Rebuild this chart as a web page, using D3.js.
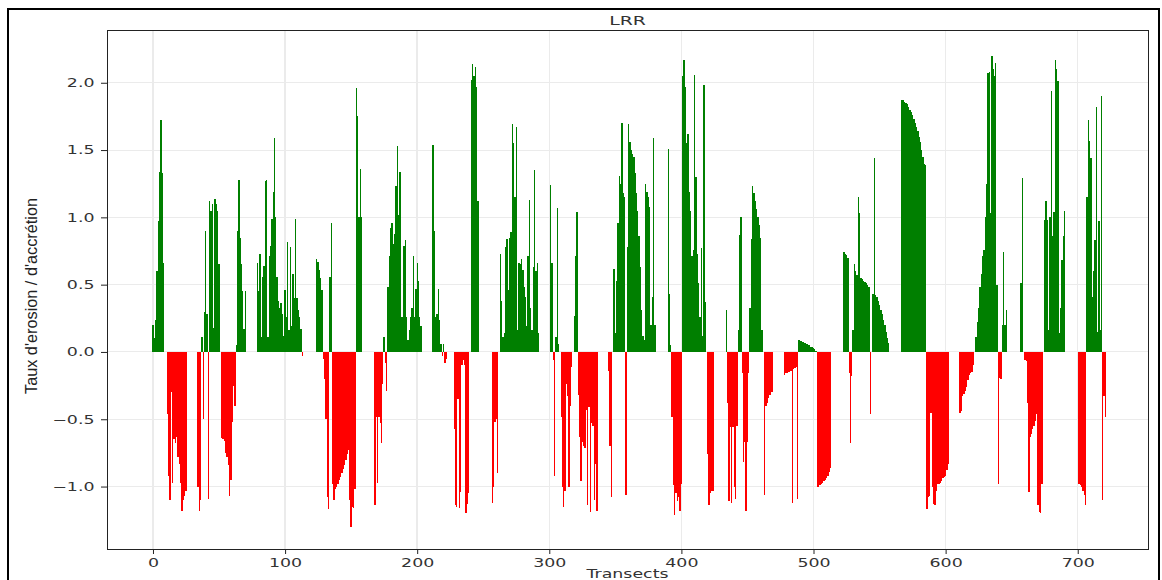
<!DOCTYPE html>
<html lang="fr">
<head>
<meta charset="utf-8">
<title>LRR</title>
<script src="https://d3js.org/d3.v7.min.js"></script>
<style>
	body { margin: 0; background: #fff; }
</style>
</head>
<body>
<script type="text/javascript">
//Data : LRR par transect (m/an)
var lrr = [
	0.2, 0.1, 0.24, 0.6, 0.97, 1.34, 1.72, 1.33, 0.66, 0,
	0, -0.46, -0.92, -1.1, -0.3, -0.97, -0.65, -0.68, -0.63, -0.78,
	-0.83, -0.97, -1.18, -1.1, -1.07, -1.03, 0, 0, 0, 0,
	0, 0, 0, 0, -1.0, -1.18, -1.1, 0.11, -0.5, 0.3,
	0.9, 0.28, -1.09, 1.12, 1.05, 1.1, 0.18, 1.14, 1.1, 1.05,
	0.65, 0, -0.64, -0.65, -0.66, -0.75, -0.78, -0.84, -1.07, -0.95,
	-0.52, -0.25, -0.4, 0.05, 0.9, 1.28, 0.85, 0.65, 0.45, 0.17,
	0.45, 0, 0, 0, 0, 0, 0, 0, 0, 0.66,
	0.45, 0.73, 0.11, 0.56, 0.64, 1.27, 1.28, 0.11, 0.71, 0.79,
	0.99, 1.19, 1.59, 1.0, 0.56, 0.38, 0.33, 0.36, 0.28, 0.12,
	0.46, 0.26, 0.82, 0.16, 0.78, 0.19, 0.58, 0.4, 0.99, 0.4,
	0.31, 0.26, 0.17, -0.03, 0, 0, 0, 0, 0, 0,
	0, 0, 0, 0, 0.69, 0.67, 0.61, 0.55, 0.46, -0.05,
	-0.2, -0.5, -1.08, -1.17, 0.56, 0.96, -0.98, -1.1, -1.02, -1.0,
	-0.98, -0.95, -0.93, -0.9, -0.87, -0.84, -0.8, -0.76, -0.73, -1.1,
	-1.3, -1.15, -1.16, -1.02, 1.96, 1.75, 1.0, 1.36, 1.0, 0,
	0, 0, 0, 0, 0, 0, 0, 0, -1.14, -0.48,
	-0.97, -0.48, -0.53, -0.68, -0.24, 0.11, -0.08, -0.29, 0.48, 0.71,
	0.92, 0.96, 0.8, 0.88, 1.23, 1.53, 1.02, 1.34, 0.26, 0.26,
	0.79, 0.83, 0.26, 0.09, 0.16, 0.26, 0.33, 0.71, 0.26, 0.47,
	0.66, 0.53, 0.26, 0.19, 0, 0, 0, 0, 0, 0,
	0, 0, 1.54, 0.9, 0.26, 0.28, 0.47, 0.24, 0.06, -0.03,
	0.06, -0.08, -0.05, 0, 0, 0, 0, 0, -0.57, -1.14,
	-1.15, -0.35, -1.16, -1.04, -0.1, -0.06, -0.1, -1.2, -1.13, -1.05,
	0, 2.02, 2.14, 2.05, 2.12, 1.97, 1.12, 0, 0, 0,
	0, 0, 0, 0, 0, 0, 0, -1.12, -1.0, -0.52,
	-0.5, -0.9, 0, 0.73, 0.38, 0.11, 0.14, 0.78, 0.84, 0.46,
	0.85, 0.89, 1.69, 1.55, 1.15, 1.67, 0.16, 0.66, 0.65, 0.69,
	0.61, 0.48, 0.41, 0.19, 0.71, 1.13, 0.33, 0.16, 0.63, 1.35,
	0.6, 0.66, 0.14, 0, 0, 0, 0, 0, 0, 0,
	0, 1.24, 0.66, -0.06, -0.92, 0.11, 1.07, 0.06, 0, -0.48,
	-1.0, -1.15, -1.03, -0.24, -0.33, -1.0, -0.4, -0.11, 0, 0.27,
	0.71, 1.04, -0.32, -0.63, -0.96, -0.67, -0.7, -0.71, -0.43, -1.14,
	-0.41, -1.19, -0.53, -0.55, -1.1, -0.83, -1.18, 0, 0, 0,
	0, 0, 0, 0, 0, -0.14, -0.7, -1.08, 0, 0.62,
	0.14, 0.53, 0.96, 1.31, 1.25, 1.7, 1.18, 1.15, -1.06, 0.78,
	1.69, 1.56, 1.5, 1.47, 1.45, 1.33, 1.18, 1.05, 0.86, 0.63,
	0.31, 0.12, 0.09, 1.25, 1.19, 1.15, 1.08, 0.2, 0.41, 1.59,
	0.2, 0, 0, 0, 0, 0, 0, 0, 0, 0,
	1.51, 0.43, 0.05, -0.48, -0.99, -1.21, -1.05, -1.11, -1.08, -1.18,
	-0.98, 2.05, 2.17, 1.97, 1.55, 1.62, 1.19, 1.05, 0.71, 0.76,
	2.06, 1.3, 0.73, 0.51, 0.26, 0.77, 0.12, 1.98, 0.37, 0,
	-0.76, -1.14, -1.05, -1.03, -1.03, 0, 0, 0, 0, 0,
	0, 0, 0, 0, 0.31, -0.38, -1.11, -0.56, -1.12, -0.56,
	-1.0, -1.09, -0.55, 0.16, 0.87, 1.0, -0.16, -0.82, -0.67, -1.18,
	-0.67, -0.16, 0.33, 0.84, 1.23, 1.18, 1.12, 1.06, 1.0, 0.94,
	0.85, 0.16, 0, -1.06, -0.4, -0.38, -0.34, -0.32, -0.3, -0.3,
	0, 0, 0, 0, 0, 0, 0, 0, -0.17, -0.16,
	-0.16, -0.15, -0.15, -0.14, -1.12, -0.13, -0.12, -0.11, -1.09, 0.09,
	0.085, 0.08, 0.075, 0.07, 0.065, 0.06, 0.055, 0.05, 0.04, 0.035,
	0.03, 0.02, 0.01, -1.0, -1.0, -0.99, -0.98, -0.97, -0.96, -0.95,
	-0.94, -0.92, -0.89, -0.86, 0, 0, 0, 0, 0, 0,
	0, 0, 0, 0.74, 0.73, 0.72, 0.7, -0.16, -0.68, -0.18,
	0.16, 0.65, 0.6, 0.57, 1.15, 1.03, 0.55, 0.54, 0.53, 0.52,
	0.51, 0.5, 0.48, -0.46, 0, 0.43, 1.44, 0.42, 0.41, 0.38,
	0.35, 0.31, 0.28, 0.24, 0.2, 0.15, 0.1, 0.07, 0, 0,
	0, 0, 0, 0, 0, 0, 0, 1.87, 1.87, 1.86,
	1.85, 1.84, 1.82, 1.8, 1.78, 1.76, 1.73, 1.7, 1.67, 1.64,
	1.6, 1.56, 1.5, 1.45, 1.4, 1.39, -1.17, -1.08, -1.07, -0.45,
	-1.0, -1.13, -1.14, -1.03, -0.98, -0.98, -0.97, -0.96, -0.94, -0.93,
	-0.92, -0.88, -0.83, 0, 0, 0, 0, 0, 0, 0,
	0, -0.45, -0.44, -0.33, -0.31, -0.29, -0.26, -0.21, -0.17, -0.16,
	-0.15, -0.1, 0, 0.11, 0.22, 0.33, 0.48, 0.58, 0.71, 0.76,
	1.0, 1.25, 2.07, 2.08, 1.03, 2.2, 2.1, 2.05, 2.15, 0.5,
	-0.98, -0.19, -0.2, 0.2, 0.74, 0.2, 0.31, 0, 0, 0,
	0, 0, 0, 0, 0, 0, 0, 0.51, 1.29, 0,
	-0.06, -0.07, -0.38, -1.04, -0.63, -0.61, -0.57, -0.55, -0.51, -0.46,
	-1.14, -1.19, -1.2, -0.98, 0, 0.98, 1.12, 0.98, 0.16, 1.0,
	1.94, 0.86, 1.04, 2.17, 2.1, 2.01, 0.14, 0.33, 0.68, 0.86,
	1.05, 0, 0, 0, 0, 0, 0, 0, 0, 0,
	0, -0.98, -0.99, -1.0, -1.03, -1.06, -1.14, 1.15, 1.72, 1.57,
	1.44, 0.41, 0.6, 0.83, 1.82, 0.15, 0.97, 0.16, 1.9, -1.1,
	-0.33, -0.48
];

//Transects (0 .. n-1)
var transects = d3.range(lrr.length);

//Ticks
var xTicks = [0, 100, 200, 300, 400, 500, 600, 700];
var yTicks = [-1.0, -0.5, 0.0, 0.5, 1.0, 1.5, 2.0];

//Textes
var titre = "LRR";
var xLabel = "Transects";
var yLabel = "Taux d'erosion / d'accrétion";

//Width and height
var w = 1162;
var h = 580;
var gauche = 107, droite = 1148, haut = 30, bas = 549;
var etire = 1.45; // l'image d'origine est étirée en largeur

var svg = d3.select("body")
			.append("svg")
			.attr("width", w)
			.attr("height", h);

svg.append("rect")
	.attr("width", w)
	.attr("height", h)
	.attr("fill", "#fff");

//Scales
var x = d3.scaleLinear().domain([-34.8, 753.2]).range([gauche, droite]);
var y = d3.scaleLinear().domain([-1.464, 2.392]).range([bas, haut]);

//Grille
var grille = svg.append("g").attr("shape-rendering", "crispEdges");
grille.selectAll("line.gx")
	.data(xTicks)
	.enter()
	.append("line")
	.attr("class", "gx")
	.attr("x1", function(d) { return x(d); })
	.attr("x2", function(d) { return x(d); })
	.attr("y1", haut)
	.attr("y2", bas)
	.attr("stroke", "#ebebeb")
	.attr("stroke-width", 1.4);
grille.selectAll("line.gy")
	.data(yTicks)
	.enter()
	.append("line")
	.attr("class", "gy")
	.attr("x1", gauche)
	.attr("x2", droite)
	.attr("y1", function(d) { return y(d); })
	.attr("y2", function(d) { return y(d); })
	.attr("stroke", "#ebebeb")
	.attr("stroke-width", 1);

//Barres
var largeur = x(0.5) - x(-0.5);
svg.append("g")
	.attr("shape-rendering", "crispEdges")
	.selectAll("rect")
	.data(lrr)
	.enter()
	.append("rect")
	.attr("x", function(d, i) { return x(transects[i] - 0.5); })
	.attr("y", function(d) { return y(Math.max(0, d)); })
	.attr("width", largeur)
	.attr("height", function(d) { return Math.abs(y(d) - y(0)); })
	.attr("fill", function(d) { return d >= 0 ? "#007f00" : "#ff0000"; });

//Axes
var xAxis = d3.axisBottom(x).tickValues(xTicks).tickSize(5).tickPadding(4);
var yAxis = d3.axisLeft(y).tickValues(yTicks).tickFormat(d3.format(".1f")).tickSize(6).tickPadding(2.6);

var gx = svg.append("g").attr("transform", "translate(0," + bas + ")").call(xAxis);
var gy = svg.append("g").attr("transform", "translate(" + gauche + ",0)").call(yAxis);

[gx, gy].forEach(function(g) {
	g.select(".domain").remove();
	g.selectAll(".tick line").attr("stroke", "#222");
	g.selectAll(".tick text")
		.attr("fill", "#333")
		.style("font-family", "DejaVu Sans")
		.style("font-size", "12px")
		.attr("transform", "scale(" + etire + ",1)");
});

//Cadre du graphique
svg.append("rect")
	.attr("x", gauche)
	.attr("y", haut)
	.attr("width", droite - gauche)
	.attr("height", bas - haut)
	.attr("fill", "none")
	.attr("stroke", "#222")
	.attr("stroke-width", 1)
	.attr("shape-rendering", "crispEdges");

//Titre et labels
var cx = (gauche + droite) / 2;
svg.append("text")
	.text(titre)
	.attr("transform", "translate(" + cx + ",25) scale(" + etire + ",1)")
	.attr("text-anchor", "middle")
	.attr("fill", "#333")
	.style("font-family", "DejaVu Sans")
	.style("font-size", "13px");

svg.append("text")
	.text(xLabel)
	.attr("transform", "translate(" + cx + ",578) scale(" + etire + ",1)")
	.attr("text-anchor", "middle")
	.attr("fill", "#333")
	.style("font-family", "DejaVu Sans")
	.style("font-size", "12px");

svg.append("text")
	.text(yLabel)
	.attr("transform", "translate(37," + 296 + ") scale(1.2,1) rotate(-90)")
	.attr("text-anchor", "middle")
	.attr("textLength", 196)
	.attr("lengthAdjust", "spacingAndGlyphs")
	.attr("fill", "#222")
	.style("font-family", "Liberation Sans")
	.style("font-size", "14px");

//Cadre extérieur
svg.append("rect")
	.attr("x", 8)
	.attr("y", 9)
	.attr("width", 1151)
	.attr("height", 600)
	.attr("fill", "none")
	.attr("stroke", "#000")
	.attr("stroke-width", 2);
</script>
</body>
</html>
